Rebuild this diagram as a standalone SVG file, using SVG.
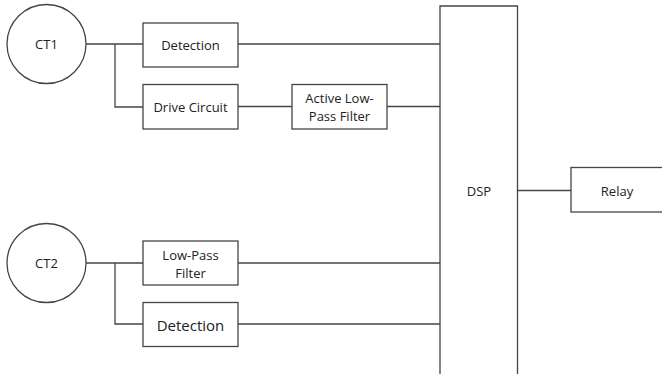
<svg xmlns="http://www.w3.org/2000/svg" width="662" height="374" viewBox="0 0 662 374">
<style>
.box{fill:#fff;stroke:#454545;stroke-width:1.3}
.ln{fill:none;stroke:#454545;stroke-width:1.3}
text{font-family:"Open Sans","Liberation Sans",sans-serif;font-size:13px;fill:#222;text-anchor:middle;dominant-baseline:central}
</style>
<rect width="662" height="374" fill="#fff"/>
<g id="connectors">
<path class="ln" d="M86 44H143M115 44V107H143M238 44H440M238 106.5H292M387 106.5H440"/>
<path class="ln" d="M86 263H143M115 263V324H143M238 263H440M238 324H440"/>
<path class="ln" d="M518 190.5H571"/>
</g>
<g id="ct1"><circle class="box" cx="46.5" cy="44" r="39.5"/><text x="46.5" y="44">CT1</text></g>
<g id="detection1"><rect class="box" x="143" y="23" width="95" height="44"/><text x="190.5" y="45">Detection</text></g>
<g id="drive"><rect class="box" x="143" y="84.5" width="95" height="44.5"/><text x="190.5" y="107">Drive Circuit</text></g>
<g id="alpf"><rect class="box" x="292" y="84.5" width="95" height="44.5"/><text x="339.5" y="98">Active Low-</text><text x="339.5" y="116">Pass Filter</text></g>
<g id="ct2"><circle class="box" cx="46.5" cy="263" r="39.5"/><text x="46.5" y="263">CT2</text></g>
<g id="lpf"><rect class="box" x="143" y="241" width="95" height="44"/><text x="190.5" y="254.5">Low-Pass</text><text x="190.5" y="273">Filter</text></g>
<g id="detection2"><rect class="box" x="143" y="302.5" width="95" height="44"/><text x="190.5" y="325" style="font-size:15px">Detection</text></g>
<g id="dsp"><path class="box" d="M440 380V6H517.5V380"/><text x="479" y="191">DSP</text></g>
<g id="relay"><rect class="box" x="571" y="167.5" width="100" height="44.5"/><text x="617" y="191">Relay</text></g>
</svg>
